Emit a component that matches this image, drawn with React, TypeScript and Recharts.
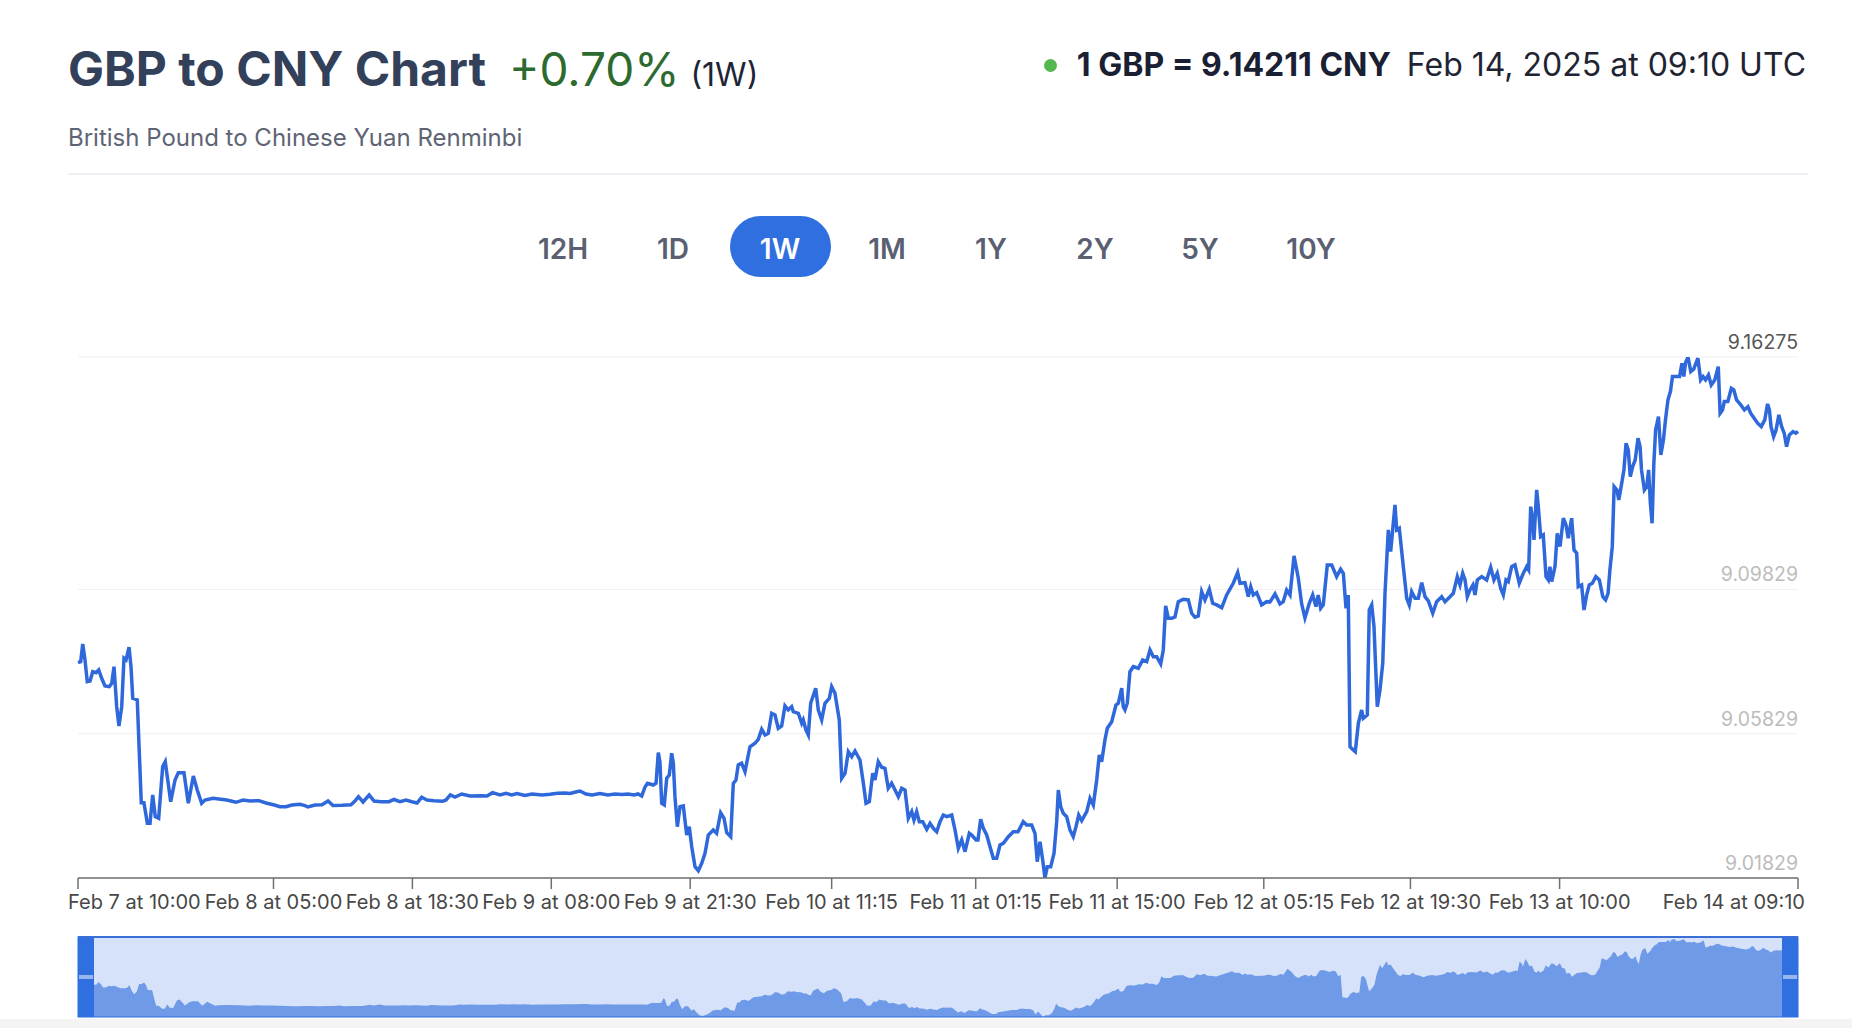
import React from 'react';
import { LineChart, Line, XAxis, YAxis, CartesianGrid, Brush, AreaChart, Area } from 'recharts';

// hours since Feb 7, 10:00 UTC
const times = [
  0.00, 0.26, 0.46, 0.68, 0.90, 1.17, 1.43, 1.75, 2.01, 2.30, 2.62, 3.04, 3.28, 3.50, 3.76, 3.98, 4.25, 4.47, 4.67, 4.96,
  5.15, 5.32, 5.76, 5.96, 6.15, 6.41, 6.74, 7.00, 7.26, 7.51, 7.84, 8.23, 8.48, 8.68, 9.01, 9.43, 9.75, 10.30, 10.72, 11.21,
  11.59, 12.02, 12.34, 13.12, 14.45, 15.36, 16.04, 16.72, 17.59, 18.27, 19.08, 19.63, 20.20, 20.80, 21.58, 22.06, 22.35, 23.03, 23.71, 24.30,
  24.78, 25.66, 26.53, 26.92, 27.26, 27.70, 28.30, 28.77, 29.45, 30.23, 30.71, 31.30, 31.88, 32.46, 32.95, 33.40, 33.92, 34.60, 35.45, 35.77,
  36.19, 36.64, 37.30, 38.10, 39.17, 39.75, 40.29, 41.01, 41.60, 42.14, 42.67, 43.44, 44.12, 45.11, 45.87, 46.60, 47.33, 47.82, 48.46, 48.79,
  49.37, 49.96, 50.73, 51.51, 52.19, 52.87, 53.45, 54.04, 54.43, 54.79, 55.11, 55.35, 55.59, 55.90, 56.18, 56.40, 56.56, 56.73, 56.98, 57.22,
  57.47, 57.70, 57.86, 58.02, 58.25, 58.51, 58.83, 59.16, 59.41, 59.65, 59.97, 60.29, 60.62, 60.94, 61.26, 61.74, 62.07, 62.46, 62.79, 63.05,
  63.44, 63.69, 63.95, 64.17, 64.50, 64.83, 65.05, 65.31, 65.80, 66.12, 66.45, 66.77, 67.09, 67.42, 67.74, 68.06, 68.39, 68.71, 69.03, 69.36,
  69.52, 70.01, 70.34, 70.49, 70.75, 70.98, 71.21, 71.70, 71.95, 72.28, 72.60, 73.02, 73.25, 73.57, 73.99, 74.22, 74.55, 74.87, 75.20, 75.52,
  76.00, 76.33, 76.59, 76.91, 77.24, 77.46, 77.78, 78.11, 78.43, 78.75, 79.08, 79.41, 79.73, 80.06, 80.38, 80.70, 81.03, 81.25, 81.51, 81.77,
  82.10, 82.49, 82.81, 83.13, 83.46, 83.78, 84.10, 84.43, 84.92, 85.24, 85.56, 85.89, 86.21, 86.63, 86.86, 87.28, 87.47, 87.73, 87.99, 88.32,
  88.64, 88.96, 89.29, 89.61, 89.93, 90.42, 90.90, 91.36, 91.87, 92.20, 92.69, 93.01, 93.23, 93.50, 93.76, 93.98, 94.21, 94.54, 94.86, 95.12,
  95.28, 95.51, 95.76, 96.09, 96.41, 96.73, 97.00, 97.26, 97.55, 98.04, 98.36, 98.68, 99.01, 99.26, 99.49, 99.81, 100.04, 100.47, 100.88, 101.11,
  101.44, 101.59, 101.76, 101.98, 102.24, 102.57, 103.05, 103.48, 103.87, 104.19, 104.51, 104.84, 105.23, 105.48, 105.71, 105.97, 106.30, 106.62, 106.94, 107.43,
  107.91, 108.24, 108.56, 108.88, 109.21, 109.53, 109.95, 110.28, 110.67, 111.16, 111.64, 112.28, 112.71, 112.94, 113.42, 113.74, 113.98, 114.23, 114.56, 115.04,
  115.53, 115.85, 116.34, 116.82, 117.14, 117.47, 117.80, 118.19, 118.60, 118.93, 119.25, 119.67, 120.00, 120.32, 120.54, 120.78, 121.03, 121.42, 121.85, 122.33,
  122.72, 122.98, 123.24, 123.46, 123.63, 123.95, 124.14, 124.44, 124.76, 124.92, 125.31, 125.50, 125.74, 125.96, 126.28, 126.54, 126.81, 127.03, 127.35, 127.58,
  128.00, 128.17, 128.42, 128.81, 129.14, 129.39, 129.62, 129.95, 130.27, 130.60, 130.92, 131.24, 131.67, 132.05, 132.54, 132.86, 133.35, 133.67, 134.06, 134.32,
  134.58, 134.81, 135.03, 135.29, 135.58, 135.78, 136.00, 136.43, 136.91, 137.30, 137.62, 137.94, 138.27, 138.53, 138.79, 139.01, 139.34, 139.66, 140.08, 140.47,
  140.80, 140.99, 141.19, 141.38, 141.51, 141.77, 141.93, 142.16, 142.41, 142.68, 142.90, 143.06, 143.23, 143.55, 143.77, 144.04, 144.36, 144.62, 144.84, 145.17,
  145.40, 145.66, 145.81, 146.14, 146.37, 146.63, 146.88, 147.18, 147.52, 147.86, 148.20, 148.47, 148.71, 148.89, 149.12, 149.30, 149.57, 149.75, 149.98, 150.25,
  150.46, 150.67, 150.87, 151.10, 151.35, 151.62, 151.82, 151.96, 152.24, 152.47, 152.65, 152.82, 152.99, 153.16, 153.33, 153.61, 153.84, 154.09, 154.29, 154.53,
  154.77, 154.97, 155.39, 155.66, 155.89, 156.07, 156.24, 156.48, 156.75, 157.03, 157.44, 157.71, 157.95, 158.19, 158.47, 158.74, 159.08, 159.42, 159.60, 159.83,
  160.01, 160.35, 160.69, 160.93, 161.20, 161.61, 161.96, 162.30, 162.57, 162.91, 163.25, 163.60, 163.94, 164.21, 164.39, 164.55, 164.80, 165.04, 165.31, 165.58,
  165.83, 166.06, 166.33, 166.68, 166.96, 167.17,
];

// GBP -> CNY rate
const rates = [
  9.07800, 9.07827, 9.08318, 9.07875, 9.07273, 9.07292, 9.07550, 9.07522, 9.07597, 9.07367, 9.07154, 9.07134, 9.07228, 9.07689, 9.06580, 9.06044, 9.06580, 9.07922, 9.07875, 9.08227,
  9.07689, 9.06812, 9.06765, 9.05296, 9.03917, 9.03917, 9.03346, 9.03346, 9.04131, 9.03529, 9.03485, 9.04916, 9.05054, 9.04638, 9.03945, 9.04547, 9.04749, 9.04749, 9.03901, 9.04658,
  9.04269, 9.03901, 9.03992, 9.04039, 9.03992, 9.03928, 9.03992, 9.03964, 9.03973, 9.03909, 9.03853, 9.03806, 9.03806, 9.03853, 9.03873, 9.03834, 9.03798, 9.03853, 9.03862, 9.03964,
  9.03840, 9.03846, 9.03862, 9.03964, 9.04084, 9.03937, 9.04131, 9.03964, 9.03945, 9.03945, 9.04006, 9.03945, 9.03992, 9.03945, 9.03909, 9.04067, 9.03992, 9.03973, 9.03956, 9.03992,
  9.04131, 9.04075, 9.04159, 9.04103, 9.04111, 9.04103, 9.04195, 9.04131, 9.04178, 9.04131, 9.04172, 9.04117, 9.04159, 9.04131, 9.04150, 9.04178, 9.04186, 9.04172, 9.04222, 9.04241,
  9.04159, 9.04131, 9.04172, 9.04131, 9.04159, 9.04145, 9.04159, 9.04131, 9.04159, 9.04103, 9.04353, 9.04455, 9.04436, 9.04408, 9.04455, 9.05304, 9.05046, 9.03901, 9.03853, 9.04594,
  9.04685, 9.05287, 9.05018, 9.04084, 9.03252, 9.03806, 9.03826, 9.03021, 9.03252, 9.02697, 9.02142, 9.02031, 9.02237, 9.02514, 9.03021, 9.03160, 9.03069, 9.03640, 9.03485, 9.03085,
  9.02974, 9.04455, 9.04547, 9.04963, 9.05010, 9.04777, 9.05101, 9.05470, 9.05564, 9.05675, 9.05953, 9.05795, 9.05842, 9.06396, 9.06349, 9.05980, 9.06044, 9.06599, 9.06488, 9.06579,
  9.06441, 9.06396, 9.06119, 9.06211, 9.05933, 9.05795, 9.06674, 9.07090, 9.06488, 9.06211, 9.06674, 9.06812, 9.07134, 9.06951, 9.06211, 9.04594, 9.04733, 9.05332, 9.05193, 9.05351,
  9.05101, 9.04455, 9.03901, 9.03945, 9.04733, 9.04547, 9.05054, 9.04899, 9.04871, 9.04317, 9.04455, 9.04269, 9.04084, 9.04317, 9.04269, 9.03485, 9.03668, 9.03437, 9.03668, 9.03390,
  9.03390, 9.03180, 9.03346, 9.03207, 9.03113, 9.03390, 9.03576, 9.03529, 9.03576, 9.03160, 9.02653, 9.02883, 9.02558, 9.03069, 9.03021, 9.02883, 9.02883, 9.03457, 9.03207, 9.03021,
  9.02697, 9.02375, 9.02375, 9.02744, 9.02791, 9.02974, 9.03113, 9.03113, 9.03390, 9.03299, 9.03299, 9.03069, 9.02281, 9.02836, 9.02328, 9.01829, 9.02142, 9.02142, 9.02514, 9.03390,
  9.04269, 9.03806, 9.03623, 9.03529, 9.03160, 9.02974, 9.03252, 9.03576, 9.03418, 9.03668, 9.04039, 9.03853, 9.04547, 9.05240, 9.05054, 9.05656, 9.05980, 9.06164, 9.06627, 9.06674,
  9.07090, 9.06579, 9.06488, 9.06674, 9.07550, 9.07689, 9.07644, 9.07875, 9.07827, 9.08152, 9.07966, 9.07966, 9.07764, 9.08152, 9.09372, 9.09031, 9.09031, 9.09067, 9.09491, 9.09558,
  9.09539, 9.09170, 9.09059, 9.09095, 9.09769, 9.09539, 9.09835, 9.09447, 9.09400, 9.09325, 9.09677, 9.10002, 9.10296, 9.10002, 9.10018, 9.09630, 9.09907, 9.09677, 9.09741, 9.09400,
  9.09491, 9.09483, 9.09705, 9.09428, 9.09491, 9.09816, 9.09677, 9.10759, 9.10149, 9.09428, 9.09039, 9.09447, 9.09677, 9.09353, 9.09677, 9.09308, 9.09400, 9.10509, 9.10509, 9.10185,
  9.10390, 9.10279, 9.09308, 9.09677, 9.05470, 9.05379, 9.05332, 9.06119, 9.06488, 9.06258, 9.06349, 9.09261, 9.09400, 9.08798, 9.06579, 9.07043, 9.07783, 9.09724, 9.11480, 9.10878,
  9.12173, 9.11480, 9.11527, 9.10462, 9.09586, 9.09400, 9.09769, 9.09586, 9.09586, 9.10018, 9.09630, 9.09511, 9.09170, 9.09491, 9.09630, 9.09491, 9.09630, 9.09724, 9.10185, 9.09955,
  9.10279, 9.10093, 9.09630, 9.09816, 9.09955, 9.09677, 9.10093, 9.10185, 9.10093, 9.10445, 9.10093, 9.10279, 9.09863, 9.09677, 9.10093, 9.10046, 9.10462, 9.10509, 9.10002, 9.10279,
  9.10462, 9.10370, 9.12126, 9.11757, 9.11202, 9.12589, 9.12126, 9.11294, 9.11341, 9.10185, 9.10093, 9.10462, 9.10046, 9.10462, 9.11388, 9.11017, 9.11804, 9.11618, 9.11249, 9.11804,
  9.10925, 9.10834, 9.09907, 9.09955, 9.09261, 9.09677, 9.09955, 9.10002, 9.10185, 9.10093, 9.09630, 9.09539, 9.09724, 9.10370, 9.11017, 9.12681, 9.12589, 9.12312, 9.12681, 9.13144,
  9.13884, 9.13698, 9.12958, 9.13235, 9.13421, 9.14023, 9.13790, 9.13144, 9.12589, 9.12681, 9.13144, 9.12220, 9.11666, 9.13329, 9.14253, 9.14622, 9.13560, 9.13976, 9.14530, 9.15085,
  9.15315, 9.15731, 9.15731, 9.15731, 9.16103, 9.15731, 9.16119, 9.16275, 9.15870, 9.15936, 9.16241, 9.15640, 9.15731, 9.15640, 9.15778, 9.15501, 9.15640, 9.16009, 9.14716, 9.14808,
  9.15038, 9.15038, 9.15409, 9.15362, 9.15085, 9.14946, 9.14808, 9.14899, 9.14716, 9.14577, 9.14439, 9.14345, 9.14530, 9.14974, 9.14808, 9.14345, 9.14067, 9.14253, 9.14669, 9.14345,
  9.14161, 9.13790, 9.14114, 9.14206, 9.14161, 9.14211,
];

const tickHours = [0, 19, 32.5, 46, 59.5, 73.25, 87.25, 101, 115.25, 129.5, 144, 167.17];
const tickLabels = [
  'Feb 7 at 10:00', 'Feb 8 at 05:00', 'Feb 8 at 18:30', 'Feb 9 at 08:00', 'Feb 9 at 21:30', 'Feb 10 at 11:15',
  'Feb 11 at 01:15', 'Feb 11 at 15:00', 'Feb 12 at 05:15', 'Feb 12 at 19:30', 'Feb 13 at 10:00', 'Feb 14 at 09:10',
];
const yTicks = [9.01829, 9.05829, 9.09829, 9.16275];
const periods = ['12H', '1D', '1W', '1M', '1Y', '2Y', '5Y', '10Y'];
const activePeriod = '1W';
const periodCenters = [563, 673, 780, 887, 991, 1095, 1200, 1311];

const data = times.map((t, i) => ({ t, v: rates[i] }));

const FONT = 'Inter, "Noto Sans", sans-serif';

const XTick = (props: any) => {
  const { x, y, payload } = props;
  const i = tickHours.indexOf(payload.value);
  const last = tickHours.length - 1;
  const anchor = i === 0 ? 'start' : i === last ? 'end' : 'middle';
  const dx = i === 0 ? -10 : i === last ? 7 : 0;
  return (
    <text x={x + dx} y={y} dy="0.71em" textAnchor={anchor} fontSize={20} fill="#474747" fontFamily={FONT}>
      {tickLabels[i]}
    </text>
  );
};

const YTick = (props: any) => {
  const { x, y, payload } = props;
  const isTop = payload.value === yTicks[yTicks.length - 1];
  return (
    <text x={x} y={y - 8} textAnchor="end" fontSize={19.5} fill={isTop ? '#555555' : '#bcbcbc'} fontFamily={FONT}>
      {payload.value.toFixed(5)}
    </text>
  );
};

export default function App() {
  return (
    <div style={{ position: 'absolute', left: 0, top: 0, width: 1852, height: 1028, background: '#fff', overflow: 'hidden', fontFamily: FONT }}>
      <div style={{ position: 'absolute', left: 68, top: 45, display: 'flex', alignItems: 'baseline', lineHeight: 1, whiteSpace: 'nowrap' }}>
        <span style={{ fontSize: 48, fontWeight: 700, color: '#33405a' }}>GBP to CNY Chart</span>
        <span style={{ fontSize: 46, fontWeight: 400, color: '#2d6a30', marginLeft: 23 }}>+0.70%</span>
        <span style={{ fontSize: 32, fontWeight: 400, color: '#1e2536', marginLeft: 11 }}>(1W)</span>
      </div>
      <div style={{ position: 'absolute', left: 68, top: 126, fontSize: 24, lineHeight: 1, color: '#5e6474', whiteSpace: 'nowrap' }}>
        British Pound to Chinese Yuan Renminbi
      </div>
      <div style={{ position: 'absolute', right: 46, top: 49, display: 'flex', alignItems: 'center', lineHeight: 1, whiteSpace: 'nowrap', fontSize: 32 }}>
        <span style={{ width: 13, height: 13, borderRadius: 7, background: '#55b84f', marginRight: 20, display: 'inline-block' }} />
        <span style={{ fontWeight: 700, color: '#1a2033' }}>1 GBP = 9.14211 CNY</span>
        <span style={{ fontWeight: 400, color: '#1f2433', marginLeft: 16 }}>Feb 14, 2025 at 09:10 UTC</span>
      </div>
      <div style={{ position: 'absolute', left: 68, top: 173, width: 1740, height: 2, background: '#eef0f5' }} />

      {periods.map((p, i) => {
        const active = p === activePeriod;
        const w = active ? 101 : 110;
        return (
          <div
            key={p}
            style={{
              position: 'absolute', left: periodCenters[i] - w / 2, top: 216, width: w, height: 61,
              display: 'flex', alignItems: 'center', justifyContent: 'center', boxSizing: 'border-box', paddingTop: 4,
              borderRadius: 31, background: active ? '#2f6fe0' : 'transparent',
              color: active ? '#ffffff' : '#5a6072', fontSize: 28, fontWeight: 600, lineHeight: 1,
            }}
          >
            {p}
          </div>
        );
      })}

      {/* navigator panorama, drawn behind the brush of the main chart */}
      <div style={{ position: 'absolute', left: 94, top: 939, width: 1688, height: 78 }}>
        <AreaChart width={1688} height={78} data={data} margin={{ top: 0, right: 0, bottom: 0, left: 0 }}>
          <XAxis type="number" dataKey="t" domain={[0, 167.17]} hide />
          <YAxis domain={['dataMin', 'dataMax']} hide />
          <Area type="linear" dataKey="v" stroke="none" fill="#7fa5ea" fillOpacity={1} isAnimationActive={false} />
        </AreaChart>
      </div>

      <div style={{ position: 'absolute', left: 0, top: 300 }}>
        <LineChart width={1852} height={728} data={data} margin={{ top: 57, right: 53, bottom: 30, left: 78 }}>
          <CartesianGrid vertical={false} stroke="#f0f0f0" />
          <XAxis
            type="number"
            dataKey="t"
            domain={[0, 167.17]}
            ticks={tickHours}
            interval={0}
            tick={<XTick />}
            tickSize={11}
            tickMargin={6}
            height={40}
            axisLine={{ stroke: '#6f6f6f', strokeWidth: 1.5 }}
            tickLine={{ stroke: '#6f6f6f', strokeWidth: 1.5 }}
          />
          <YAxis
            orientation="right"
            type="number"
            domain={[9.01829, 9.16275]}
            ticks={yTicks}
            interval={0}
            allowDataOverflow
            width={1}
            axisLine={false}
            tickLine={false}
            tickSize={0}
            tickMargin={0}
            tick={<YTick />}
          />
          <Line type="linear" dataKey="v" stroke="#2e68db" strokeWidth={3.5} dot={false} isAnimationActive={false} />
          <Brush
            dataKey="t"
            y={637}
            height={80}
            travellerWidth={16}
            stroke="#2f6fe0"
            fill="none"
            startIndex={0}
            endIndex={data.length - 1}
            tickFormatter={() => ''}
          />
        </LineChart>
      </div>
      <div style={{ position: 'absolute', left: 78, top: 936, width: 1720, height: 2, background: '#3a6fd8' }} />
      <div style={{ position: 'absolute', left: 0, top: 1019, width: 1852, height: 9, background: '#f4f4f4' }} />
    </div>
  );
}
